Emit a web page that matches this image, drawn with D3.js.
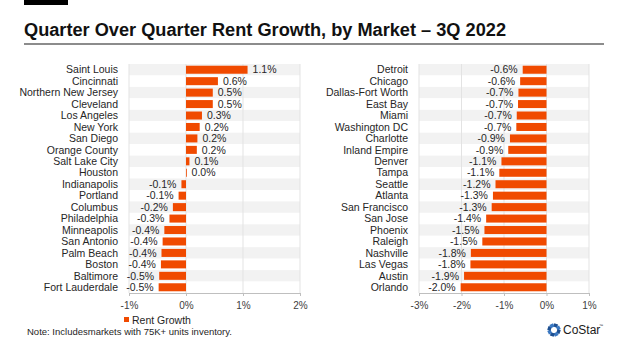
<!DOCTYPE html>
<html>
<head>
<meta charset="utf-8">
<script src="https://cdn.jsdelivr.net/npm/d3@7"></script>
<style>
  body { margin: 0; background: #fff; }
  text { font-family: "Liberation Sans", Arial, sans-serif; }
</style>
</head>
<body>
<script>
    // data
    var leftMarkets = ['Saint Louis', 'Cincinnati', 'Northern New Jersey', 'Cleveland', 'Los Angeles',
                       'New York', 'San Diego', 'Orange County', 'Salt Lake City', 'Houston',
                       'Indianapolis', 'Portland', 'Columbus', 'Philadelphia', 'Minneapolis',
                       'San Antonio', 'Palm Beach', 'Boston', 'Baltimore', 'Fort Lauderdale'];
    var leftGrowth = [1.08, 0.56, 0.47, 0.47, 0.28, 0.24, 0.20, 0.19, 0.06, 0.01,
                      -0.08, -0.13, -0.23, -0.29, -0.38, -0.41, -0.43, -0.44, -0.47, -0.48];

    var rightMarkets = ['Detroit', 'Chicago', 'Dallas-Fort Worth', 'East Bay', 'Miami',
                        'Washington DC', 'Charlotte', 'Inland Empire', 'Denver', 'Tampa',
                        'Seattle', 'Atlanta', 'San Francisco', 'San Jose', 'Phoenix',
                        'Raleigh', 'Nashville', 'Las Vegas', 'Austin', 'Orlando'];
    var rightGrowth = [-0.56, -0.62, -0.66, -0.67, -0.70, -0.71, -0.86, -0.90, -1.06, -1.11,
                       -1.20, -1.26, -1.29, -1.42, -1.46, -1.51, -1.78, -1.79, -1.94, -2.02];

    var leftTicks = [-1, 0, 1, 2];
    var rightTicks = [-3, -2, -1, 0, 1];

    var title = 'Quarter Over Quarter Rent Growth, by Market \u2013 3Q 2022';
    var seriesName = 'Rent Growth';
    var note = 'Note: Includesmarkets with 75K+ units inventory.';

    var orange = '#f04a00';

    var svg = d3.select('body').append('svg')
        .attr('width', 624)
        .attr('height', 351);

    // header: black tab, title, grey rule
    svg.append('rect')
        .attr('x', 24).attr('y', 0)
        .attr('width', 44).attr('height', 5)
        .attr('fill', '#000');
    svg.append('text')
        .attr('x', 24)
        .attr('y', 36)
        .attr('font-size', '18px')
        .attr('font-weight', 'bold')
        .attr('fill', '#111')
        .attr('textLength', 482)
        .attr('lengthAdjust', 'spacingAndGlyphs')
        .text(title);
    svg.append('line')
        .attr('x1', 24).attr('x2', 604)
        .attr('y1', 44).attr('y2', 44)
        .attr('stroke', '#8c8c8c')
        .attr('stroke-width', 2);

    function drawPanel(markets, values, ticks, xRange, labelX) {
        var rows = markets.map(function (m, i) { return {name: m, value: values[i], i: i}; });

        var x = d3.scaleLinear()
            .domain([ticks[0], ticks[ticks.length - 1]])
            .range(xRange);
        var y = d3.scaleBand()
            .domain(markets)
            .range([64, 293]);

        var g = svg.append('g');

        // alternating row backgrounds
        g.selectAll('.band')
            .data(rows)
            .enter().append('rect')
            .attr('x', xRange[0])
            .attr('y', function (d) { return y(d.name); })
            .attr('width', xRange[1] - xRange[0])
            .attr('height', y.bandwidth())
            .attr('fill', function (d) { return d.i % 2 === 0 ? '#f2f2f2' : '#fff'; });

        // vertical gridlines
        g.selectAll('.grid')
            .data(ticks)
            .enter().append('line')
            .attr('x1', function (d) { return x(d); })
            .attr('x2', function (d) { return x(d); })
            .attr('y1', 64).attr('y2', 293)
            .attr('stroke', '#e3e3e3')
            .attr('stroke-width', 1);

        // bars
        var barH = y.bandwidth() * 0.7;
        g.selectAll('.bar')
            .data(rows)
            .enter().append('rect')
            .attr('x', function (d) { return x(Math.min(0, d.value)); })
            .attr('y', function (d) { return y(d.name) + (y.bandwidth() - barH) / 2; })
            .attr('width', function (d) { return Math.max(0.8, Math.abs(x(d.value) - x(0))); })
            .attr('height', barH)
            .attr('fill', orange);

        // value labels (plain hyphen for minus, like the original)
        g.selectAll('.val')
            .data(rows)
            .enter().append('text')
            .attr('x', function (d) { return d.value >= 0 ? x(d.value) + 5 : x(d.value) - 5; })
            .attr('y', function (d) { return y(d.name) + y.bandwidth() / 2; })
            .attr('dy', '0.35em')
            .attr('text-anchor', function (d) { return d.value >= 0 ? 'start' : 'end'; })
            .attr('font-size', '10.5px')
            .attr('fill', '#262626')
            .text(function (d) { return d.value.toFixed(1) + '%'; });

        // category labels
        g.selectAll('.cat')
            .data(rows)
            .enter().append('text')
            .attr('x', labelX)
            .attr('y', function (d) { return y(d.name) + y.bandwidth() / 2; })
            .attr('dy', '0.35em')
            .attr('text-anchor', 'end')
            .attr('font-size', '10.5px')
            .attr('fill', '#262626')
            .text(function (d) { return d.name; });

        // x axis
        var axis = g.append('g')
            .attr('transform', 'translate(0,293)')
            .call(d3.axisBottom(x)
                .tickValues(ticks)
                .tickSize(3)
                .tickPadding(6)
                .tickFormat(function (d) { return d + '%'; }));
        axis.select('.domain').attr('stroke', '#bfbfbf');
        axis.selectAll('.tick line').attr('stroke', '#bfbfbf');
        axis.selectAll('.tick text')
            .attr('font-family', '"Liberation Sans", Arial, sans-serif')
            .attr('font-size', '10px')
            .attr('fill', '#404040');
    }

    drawPanel(leftMarkets, leftGrowth, leftTicks, [129, 300], 118);
    drawPanel(rightMarkets, rightGrowth, rightTicks, [419, 589], 408);

    // legend
    svg.append('rect')
        .attr('x', 124).attr('y', 317)
        .attr('width', 5).attr('height', 5)
        .attr('fill', orange);
    svg.append('text')
        .attr('x', 132).attr('y', 320)
        .attr('dy', '0.35em')
        .attr('font-size', '10.5px')
        .attr('fill', '#262626')
        .text(seriesName);

    // note
    svg.append('text')
        .attr('x', 27).attr('y', 332)
        .attr('dy', '0.35em')
        .attr('font-size', '9.5px')
        .attr('fill', '#262626')
        .text(note);

    // CoStar logo: ring of blue blocks + wordmark
    var logo = svg.append('g').attr('transform', 'translate(554,330)');
    d3.range(8).forEach(function (k) {
        logo.append('rect')
            .attr('x', -2).attr('y', -6.5)
            .attr('width', 4).attr('height', 3.5)
            .attr('fill', k % 2 === 0 ? '#1d4f91' : '#3a78c2')
            .attr('transform', 'rotate(' + (k * 45 + 20) + ')');
    });
    svg.append('text')
        .attr('x', 563).attr('y', 330)
        .attr('dy', '0.35em')
        .attr('font-family', '"Liberation Serif", "Times New Roman", serif')
        .attr('font-size', '12px')
        .attr('fill', '#1a1a1a')
        .text('CoStar');
    svg.append('text')
        .attr('x', 599).attr('y', 327)
        .attr('font-size', '4px')
        .attr('fill', '#1a1a1a')
        .text('\u2122');
</script>
</body>
</html>
